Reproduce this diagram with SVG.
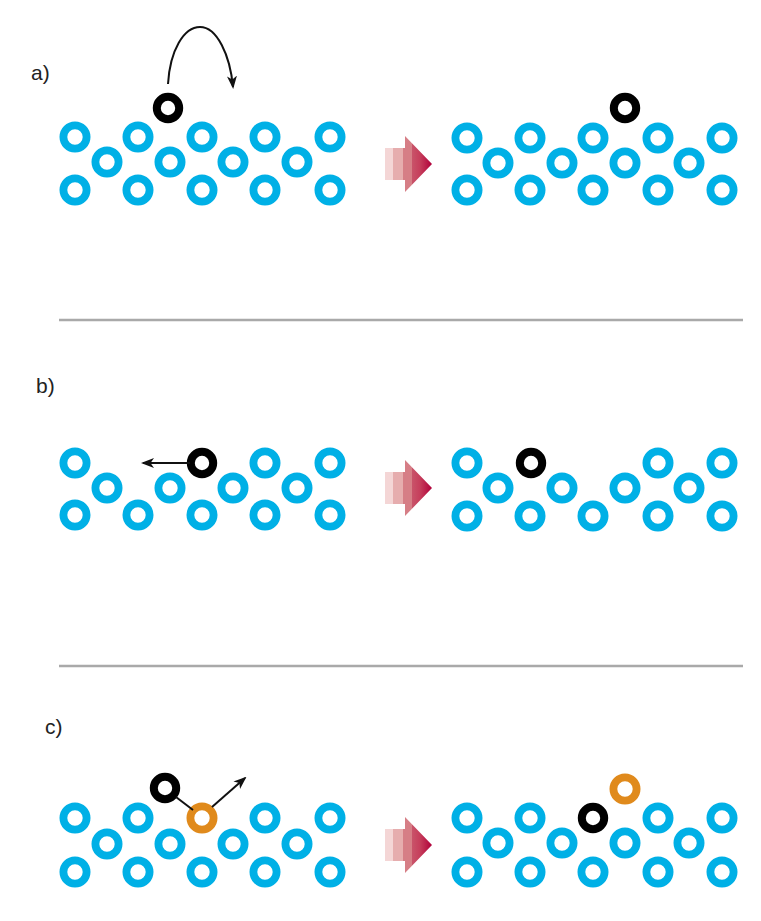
<svg xmlns="http://www.w3.org/2000/svg" xmlns:xlink="http://www.w3.org/1999/xlink" width="761" height="921" viewBox="0 0 761 921">
  <style>
    .atom { fill: none; stroke: #00b0e6; stroke-width: 7.8; }
    .adatom { fill: none; stroke: #000000; stroke-width: 8; }
    .exchange { fill: none; stroke: #e08a1c; stroke-width: 7.8; }
    .move { fill: none; stroke: #111111; stroke-width: 2; }
    .sep { stroke: #a9a9a9; stroke-width: 2.5; }
    .label { font-family: "Liberation Sans", Arial, sans-serif; font-size: 21px; fill: #222222; }
  </style>
  <defs>
    <marker id="head" viewBox="0 0 13 10" refX="11" refY="5" markerWidth="13" markerHeight="10" markerUnits="userSpaceOnUse" orient="auto">
      <path d="M0,0 L13,5 L0,10 L3.5,5 Z" fill="#111111"/>
    </marker>
    <linearGradient id="fade" x1="385" y1="0" x2="432" y2="0" gradientUnits="userSpaceOnUse">
      <stop offset="0" stop-color="#f4d6d6"/>
      <stop offset="0.17" stop-color="#f4d6d6"/>
      <stop offset="0.17" stop-color="#e6adae"/>
      <stop offset="0.38" stop-color="#e6adae"/>
      <stop offset="0.38" stop-color="#d67e86"/>
      <stop offset="0.57" stop-color="#d67e86"/>
      <stop offset="0.57" stop-color="#c9546a"/>
      <stop offset="0.74" stop-color="#c63f5c"/>
      <stop offset="1" stop-color="#b0003a"/>
    </linearGradient>
    <!-- block arrow between the before/after states, centred on y=0 -->
    <path id="step" d="M385,-16 L405,-16 L405,-28 L432,0 L405,28 L405,16 L385,16 Z" fill="url(#fade)"/>
  </defs>

  <!-- separators -->
  <line class="sep" x1="59" y1="320" x2="743" y2="320"/>
  <line class="sep" x1="59" y1="666" x2="743" y2="666"/>

  <!-- a) hopping -->
  <g id="panel-a">
    <text class="label" x="31" y="80">a)</text>
    <g id="a-before">
      <circle class="atom" cx="75" cy="137" r="11.6"/>
      <circle class="atom" cx="138" cy="137" r="11.6"/>
      <circle class="atom" cx="202" cy="137" r="11.6"/>
      <circle class="atom" cx="265" cy="137" r="11.6"/>
      <circle class="atom" cx="330" cy="137" r="11.6"/>
      <circle class="atom" cx="107" cy="162" r="11.6"/>
      <circle class="atom" cx="170" cy="162" r="11.6"/>
      <circle class="atom" cx="233" cy="162" r="11.6"/>
      <circle class="atom" cx="297" cy="162" r="11.6"/>
      <circle class="atom" cx="75" cy="190" r="11.6"/>
      <circle class="atom" cx="138" cy="190" r="11.6"/>
      <circle class="atom" cx="202" cy="190" r="11.6"/>
      <circle class="atom" cx="265" cy="190" r="11.6"/>
      <circle class="atom" cx="330" cy="190" r="11.6"/>
      <circle class="adatom" cx="168" cy="108" r="11.2"/>
    </g>
    <use id="a-step" xlink:href="#step" transform="translate(0,164)"/>
    <g id="a-after">
      <circle class="atom" cx="467" cy="138" r="11.6"/>
      <circle class="atom" cx="530" cy="138" r="11.6"/>
      <circle class="atom" cx="593" cy="138" r="11.6"/>
      <circle class="atom" cx="658" cy="138" r="11.6"/>
      <circle class="atom" cx="722" cy="138" r="11.6"/>
      <circle class="atom" cx="498" cy="163" r="11.6"/>
      <circle class="atom" cx="562" cy="163" r="11.6"/>
      <circle class="atom" cx="625" cy="163" r="11.6"/>
      <circle class="atom" cx="689" cy="163" r="11.6"/>
      <circle class="atom" cx="467" cy="190" r="11.6"/>
      <circle class="atom" cx="530" cy="190" r="11.6"/>
      <circle class="atom" cx="593" cy="190" r="11.6"/>
      <circle class="atom" cx="658" cy="190" r="11.6"/>
      <circle class="atom" cx="722" cy="190" r="11.6"/>
      <circle class="adatom" cx="625" cy="108" r="11.2"/>
    </g>
  </g>

  <!-- b) in-plane move -->
  <g id="panel-b">
    <text class="label" x="36" y="393">b)</text>
    <g id="b-before">
      <circle class="atom" cx="75" cy="463" r="11.6"/>
      <circle class="atom" cx="265" cy="463" r="11.6"/>
      <circle class="atom" cx="330" cy="463" r="11.6"/>
      <circle class="atom" cx="107" cy="488" r="11.6"/>
      <circle class="atom" cx="170" cy="488" r="11.6"/>
      <circle class="atom" cx="233" cy="488" r="11.6"/>
      <circle class="atom" cx="297" cy="488" r="11.6"/>
      <circle class="atom" cx="75" cy="515" r="11.6"/>
      <circle class="atom" cx="138" cy="515" r="11.6"/>
      <circle class="atom" cx="202" cy="515" r="11.6"/>
      <circle class="atom" cx="265" cy="515" r="11.6"/>
      <circle class="atom" cx="330" cy="515" r="11.6"/>
      <circle class="adatom" cx="202" cy="463" r="11.2"/>
    </g>
    <use id="b-step" xlink:href="#step" transform="translate(0,488)"/>
    <g id="b-after">
      <circle class="atom" cx="467" cy="463" r="11.6"/>
      <circle class="atom" cx="658" cy="463" r="11.6"/>
      <circle class="atom" cx="722" cy="463" r="11.6"/>
      <circle class="atom" cx="498" cy="488" r="11.6"/>
      <circle class="atom" cx="562" cy="488" r="11.6"/>
      <circle class="atom" cx="625" cy="488" r="11.6"/>
      <circle class="atom" cx="689" cy="488" r="11.6"/>
      <circle class="atom" cx="467" cy="516" r="11.6"/>
      <circle class="atom" cx="530" cy="516" r="11.6"/>
      <circle class="atom" cx="593" cy="516" r="11.6"/>
      <circle class="atom" cx="658" cy="516" r="11.6"/>
      <circle class="atom" cx="722" cy="516" r="11.6"/>
      <circle class="adatom" cx="531" cy="463" r="11.2"/>
    </g>
  </g>

  <!-- c) exchange -->
  <g id="panel-c">
    <text class="label" x="45" y="734">c)</text>
    <g id="c-before">
      <circle class="atom" cx="75" cy="818" r="11.6"/>
      <circle class="atom" cx="138" cy="818" r="11.6"/>
      <circle class="atom" cx="265" cy="818" r="11.6"/>
      <circle class="atom" cx="330" cy="818" r="11.6"/>
      <circle class="atom" cx="107" cy="844" r="11.6"/>
      <circle class="atom" cx="170" cy="844" r="11.6"/>
      <circle class="atom" cx="233" cy="844" r="11.6"/>
      <circle class="atom" cx="297" cy="844" r="11.6"/>
      <circle class="atom" cx="75" cy="872" r="11.6"/>
      <circle class="atom" cx="138" cy="872" r="11.6"/>
      <circle class="atom" cx="202" cy="872" r="11.6"/>
      <circle class="atom" cx="265" cy="872" r="11.6"/>
      <circle class="atom" cx="330" cy="872" r="11.6"/>
      <circle class="exchange" cx="202" cy="818" r="11.6"/>
      <circle class="adatom" cx="165" cy="788" r="11.2"/>
    </g>
    <use id="c-step" xlink:href="#step" transform="translate(0,845)"/>
    <g id="c-after">
      <circle class="atom" cx="467" cy="818" r="11.6"/>
      <circle class="atom" cx="530" cy="818" r="11.6"/>
      <circle class="atom" cx="658" cy="818" r="11.6"/>
      <circle class="atom" cx="722" cy="818" r="11.6"/>
      <circle class="atom" cx="498" cy="843" r="11.6"/>
      <circle class="atom" cx="562" cy="843" r="11.6"/>
      <circle class="atom" cx="625" cy="843" r="11.6"/>
      <circle class="atom" cx="689" cy="843" r="11.6"/>
      <circle class="atom" cx="467" cy="872" r="11.6"/>
      <circle class="atom" cx="530" cy="872" r="11.6"/>
      <circle class="atom" cx="593" cy="872" r="11.6"/>
      <circle class="atom" cx="658" cy="872" r="11.6"/>
      <circle class="atom" cx="722" cy="872" r="11.6"/>
      <circle class="adatom" cx="593" cy="818" r="11.2"/>
      <circle class="exchange" cx="625" cy="789" r="11.6"/>
    </g>
  </g>

  <!-- motion arrows -->
  <g id="connectors">
    <path class="move" d="M168,84 C170,50 184,27 200,27 C217,27 230,55 233,87" marker-end="url(#head)"/>
    <line class="move" x1="190" y1="463" x2="143" y2="463" marker-end="url(#head)"/>
    <line class="move" x1="176" y1="797" x2="193" y2="810"/>
    <line class="move" x1="212" y1="807" x2="245" y2="778" marker-end="url(#head)"/>
  </g>
</svg>
